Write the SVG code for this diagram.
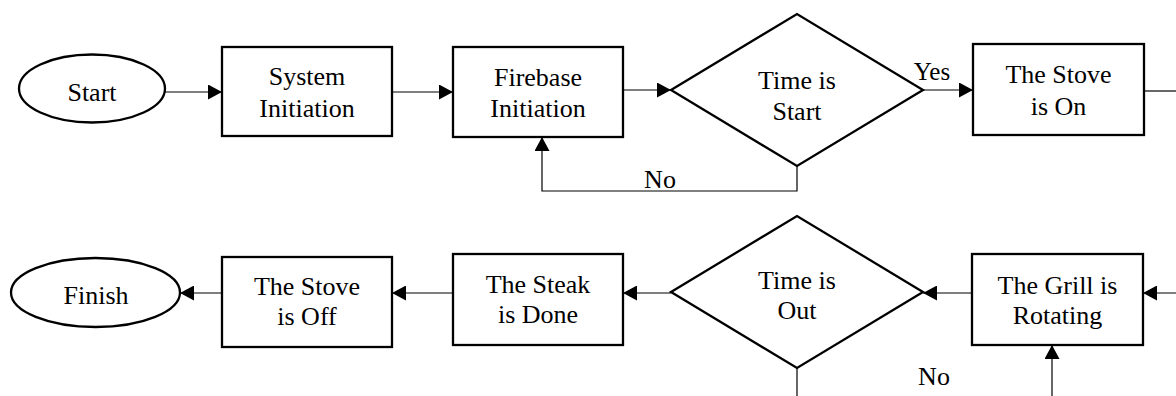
<svg xmlns="http://www.w3.org/2000/svg" width="1176" height="396" viewBox="0 0 1176 396">
<style>
.shape{fill:#fff;stroke:#000;stroke-width:2.3}
.conn{fill:none;stroke:#000;stroke-width:1.2}
text{font-family:"Liberation Serif","Times New Roman",serif;font-size:26px;fill:#000;text-anchor:middle}
.lbl{font-size:25px}
</style>
<defs>
<marker id="arr" markerUnits="userSpaceOnUse" markerWidth="15" markerHeight="15" refX="14" refY="7.5" orient="auto" viewBox="0 0 15 15">
<path d="M0,0 L14,7.5 L0,15 z" fill="#000"/>
</marker>
</defs>
<rect width="1176" height="396" fill="#fff"/>
<g id="connectors">
<line class="conn" x1="165" y1="92" x2="222" y2="92" marker-end="url(#arr)"/>
<line class="conn" x1="392" y1="92" x2="453" y2="92" marker-end="url(#arr)"/>
<line class="conn" x1="623" y1="90" x2="671" y2="90" marker-end="url(#arr)"/>
<line class="conn" x1="923" y1="90" x2="973" y2="90" marker-end="url(#arr)"/>
<polyline class="conn" points="797,166 797,191 542,191 542,137" marker-end="url(#arr)"/>
<line class="conn" x1="1144" y1="91" x2="1176" y2="91"/>
<line class="conn" x1="1176" y1="293" x2="1143" y2="293" marker-end="url(#arr)"/>
<line class="conn" x1="972" y1="293" x2="923" y2="293" marker-end="url(#arr)"/>
<line class="conn" x1="671" y1="293" x2="623" y2="293" marker-end="url(#arr)"/>
<line class="conn" x1="453" y1="293" x2="392" y2="293" marker-end="url(#arr)"/>
<line class="conn" x1="222" y1="293" x2="180" y2="293" marker-end="url(#arr)"/>
<line class="conn" x1="797" y1="368" x2="797" y2="396"/>
<line class="conn" x1="1052" y1="396" x2="1052" y2="345" marker-end="url(#arr)"/>
<text class="lbl" x="932" y="80">Yes</text>
<text x="660" y="188">No</text>
<text x="934" y="385">No</text>
</g>
<g id="start">
<ellipse class="shape" cx="92" cy="88.5" rx="73" ry="34"/>
<text x="92" y="101">Start</text>
</g>
<g id="system-init">
<rect class="shape" x="222" y="47" width="170" height="89"/>
<text x="307" y="85">System</text>
<text x="307" y="117">Initiation</text>
</g>
<g id="firebase-init">
<rect class="shape" x="453" y="47" width="170" height="90"/>
<text x="538" y="85.5">Firebase</text>
<text x="538" y="117">Initiation</text>
</g>
<g id="time-start">
<polygon class="shape" points="671,90 797,14 923,90 797,166"/>
<text x="797" y="89">Time is</text>
<text x="797" y="119.5">Start</text>
</g>
<g id="stove-on">
<rect class="shape" x="973" y="44" width="171" height="91"/>
<text x="1058.5" y="83">The Stove</text>
<text x="1058.5" y="115">is On</text>
</g>
<g id="grill-rotating">
<rect class="shape" x="972" y="254" width="171" height="91"/>
<text x="1057.5" y="293.5">The Grill is</text>
<text x="1057.5" y="323.5">Rotating</text>
</g>
<g id="time-out">
<polygon class="shape" points="671,292 797,216 923,292 797,368"/>
<text x="797" y="289">Time is</text>
<text x="797" y="319">Out</text>
</g>
<g id="steak-done">
<rect class="shape" x="453" y="254" width="170" height="91"/>
<text x="538" y="292.5">The Steak</text>
<text x="538" y="322.5">is Done</text>
</g>
<g id="stove-off">
<rect class="shape" x="222" y="257" width="170" height="90"/>
<text x="307" y="294.5">The Stove</text>
<text x="307" y="325">is Off</text>
</g>
<g id="finish">
<ellipse class="shape" cx="95.5" cy="292.5" rx="84.5" ry="34.5"/>
<text x="96" y="303.5">Finish</text>
</g>
</svg>
